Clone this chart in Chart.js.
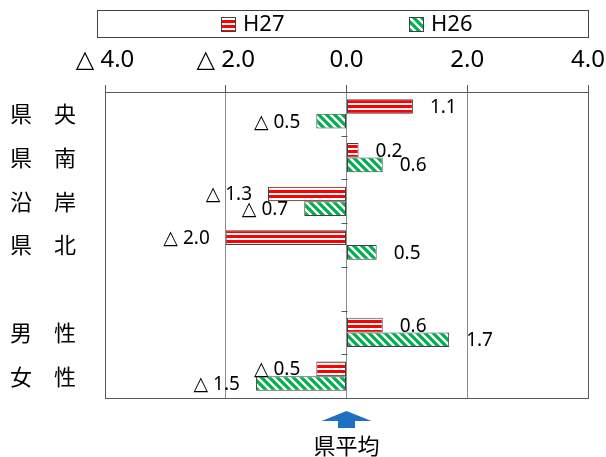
<!DOCTYPE html>
<html>
<head>
<meta charset="utf-8">
<script src="https://cdn.jsdelivr.net/npm/chart.js@4/dist/chart.umd.min.js"></script>
<style>
  html, body { margin: 0; padding: 0; background: #fff; }
  #wrap { width: 606px; height: 457px; }
</style>
</head>
<body>
<div id="wrap"><canvas id="c" width="606" height="457"></canvas></div>
<script>
// --- data ---
const categories = ["県　央", "県　南", "沿　岸", "県　北", "", "男　性", "女　性"];
const seriesNames = ["H27", "H26"];
const h27 = [1.1, 0.2, -1.3, -2.0, null, 0.6, -0.5];
const h26 = [-0.5, 0.6, -0.7, 0.5, null, 1.7, -1.5];
const xMin = -4, xMax = 4, xStep = 2;
const baseLabel = "県平均";

const LATIN = '"Noto Sans", "DejaVu Sans", "Noto Sans CJK JP", sans-serif';
const CJK = '"Noto Sans CJK JP", sans-serif';

function fmt(v) {
  return v < 0 ? "△ " + Math.abs(v).toFixed(1) : v.toFixed(1);
}

// red/white horizontal stripes
function stripePattern() {
  const c = document.createElement("canvas");
  c.width = 4; c.height = 5;
  const g = c.getContext("2d");
  g.fillStyle = "#ffffff"; g.fillRect(0, 0, 4, 5);
  g.fillStyle = "#ff0000"; g.fillRect(0, 0, 4, 3);
  return g.createPattern(c, "repeat");
}

// green with white "\" diagonals
function hatchPattern() {
  const s = 8;
  const c = document.createElement("canvas");
  c.width = s; c.height = s;
  const g = c.getContext("2d");
  g.fillStyle = "#00b050"; g.fillRect(0, 0, s, s);
  g.strokeStyle = "#ffffff"; g.lineWidth = 2.4;
  g.beginPath();
  g.moveTo(-2, -2); g.lineTo(s + 2, s + 2);
  g.moveTo(-2, s - 2); g.lineTo(2, s + 2);
  g.moveTo(s - 2, -2); g.lineTo(s + 2, 2);
  g.stroke();
  return g.createPattern(c, "repeat");
}

const fills = [stripePattern(), hatchPattern()];

// plot frame, zero-axis ticks, legend box, arrow
const decorations = {
  id: "decorations",
  beforeDatasetsDraw(chart) {
    const { ctx, chartArea: a, scales: { x, y } } = chart;
    const x0 = Math.round(x.getPixelForValue(0)) + 0.5;
    ctx.save();
    ctx.strokeStyle = "#595959";
    ctx.lineWidth = 1;
    ctx.strokeRect(Math.round(a.left) + 0.5, Math.round(a.top) + 0.5,
      Math.round(a.right - a.left), Math.round(a.bottom - a.top));
    // category boundary ticks on the zero line
    ctx.beginPath();
    for (let i = 0; i <= categories.length; i++) {
      const yy = Math.round(i === 0 ? a.top :
        i === categories.length ? a.bottom :
        (y.getPixelForValue(i - 1) + y.getPixelForValue(i)) / 2) + 0.5;
      ctx.moveTo(x0 - 6, yy); ctx.lineTo(x0, yy);
    }
    ctx.stroke();
    ctx.restore();
  },
  afterDraw(chart) {
    const { ctx, chartArea: a, scales: { x } } = chart;
    const x0 = x.getPixelForValue(0);
    ctx.save();
    // legend
    ctx.strokeStyle = "#404040"; ctx.lineWidth = 1;
    ctx.strokeRect(97.5, 10.5, 491, 27);
    ctx.font = "22px " + LATIN;
    ctx.textBaseline = "middle"; ctx.textAlign = "left"; ctx.fillStyle = "#000";
    const itemX = [221, 409];
    chart.data.datasets.forEach((ds, i) => {
      ctx.fillStyle = ds.backgroundColor;
      ctx.fillRect(itemX[i], 17, 15, 15);
      ctx.strokeStyle = "#404040";
      ctx.strokeRect(itemX[i] + 0.5, 17.5, 14, 14);
      ctx.fillStyle = "#000";
      ctx.fillText(ds.label, itemX[i] + 22, 24.5);
    });
    // arrow + base label
    ctx.fillStyle = "#1f70c1";
    ctx.beginPath();
    ctx.moveTo(x0, a.bottom + 13);
    ctx.lineTo(x0 + 25, a.bottom + 23);
    ctx.lineTo(x0 + 8.5, a.bottom + 23);
    ctx.lineTo(x0 + 8.5, a.bottom + 30);
    ctx.lineTo(x0 - 8.5, a.bottom + 30);
    ctx.lineTo(x0 - 8.5, a.bottom + 23);
    ctx.lineTo(x0 - 25, a.bottom + 23);
    ctx.closePath();
    ctx.fill();
    ctx.fillStyle = "#000";
    ctx.font = "22px " + CJK;
    ctx.textAlign = "center";
    ctx.fillText(baseLabel, x0, a.bottom + 48);
    ctx.restore();
  },
  afterDatasetsDraw(chart) {
    const { ctx } = chart;
    ctx.save();
    ctx.font = "19px " + LATIN;
    ctx.fillStyle = "#000";
    ctx.textBaseline = "middle";
    chart.data.datasets.forEach((ds, di) => {
      chart.getDatasetMeta(di).data.forEach((bar, i) => {
        const v = ds.data[i];
        if (v === null) return;
        ctx.textAlign = v < 0 ? "right" : "left";
        ctx.fillText(fmt(v), bar.x + (v < 0 ? -16 : 17), bar.y + 1);
      });
    });
    ctx.restore();
  },
};

new Chart(document.getElementById("c"), {
  type: "bar",
  data: {
    labels: categories,
    datasets: [
      { label: seriesNames[0], data: h27, backgroundColor: fills[0] },
      { label: seriesNames[1], data: h26, backgroundColor: fills[1] },
    ].map((d) => ({
      ...d,
      borderColor: "#404040",
      borderWidth: 1,
      borderSkipped: false,
      categoryPercentage: 0.67,
      barPercentage: 1.0,
    })),
  },
  options: {
    indexAxis: "y",
    responsive: false,
    animation: false,
    layout: { padding: { top: 42, left: 10, right: 18, bottom: 59 } },
    scales: {
      x: {
        position: "top",
        min: xMin,
        max: xMax,
        afterFit: (s) => { s.height = 50; s.paddingLeft = 0; s.paddingRight = 0; },
        ticks: {
          stepSize: xStep,
          padding: 10,
          color: "#000",
          font: { size: 24, family: LATIN },
          callback: (v) => fmt(v),
        },
        grid: { color: "#8c8c8c", tickColor: "#595959", tickLength: 7 },
        border: { display: false },
      },
      y: {
        afterFit: (s) => { s.width = 95; },
        grid: { display: false },
        border: { display: false },
        ticks: {
          crossAlign: "far",
          color: "#000",
          font: { size: 22, family: CJK },
        },
      },
    },
    plugins: { legend: { display: false }, tooltip: { enabled: false } },
  },
  plugins: [decorations],
});
</script>
</body>
</html>
